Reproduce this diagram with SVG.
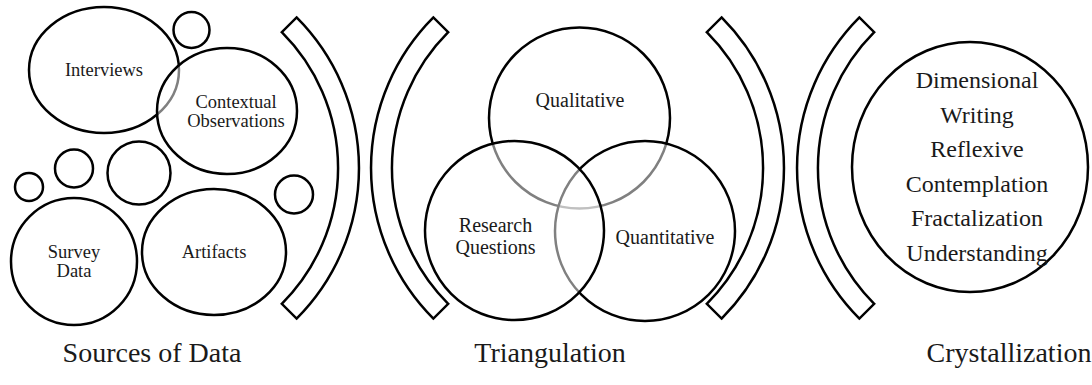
<svg xmlns="http://www.w3.org/2000/svg" width="1092" height="385" viewBox="0 0 1092 385">
<style>
.s{fill:#fff;fill-opacity:0.5;stroke:#000;stroke-width:2.5}
.b{fill:#fff;stroke:#000;stroke-width:2.5;stroke-linejoin:miter}
text{font-family:"Liberation Serif","Times New Roman",serif;fill:#1a1a1a;text-anchor:middle}
.t{font-size:18.5px}
.v{font-size:20px}
.c{font-size:24px}
.h{font-size:28px}
</style>
<rect width="1092" height="385" fill="#fff"/>
<g id="sources">
  <g id="interviews"><ellipse class="s" cx="104" cy="70" rx="75" ry="63"/><text class="t" x="104" y="76">Interviews</text></g>
  <g id="dot1"><circle class="s" cx="191.5" cy="30" r="18"/></g>
  <g id="contextual"><ellipse class="s" cx="227" cy="111" rx="70" ry="63"/><text class="t" x="236" y="108">Contextual</text><text class="t" x="236" y="127">Observations</text></g>
  <g id="dot2"><circle class="s" cx="29" cy="187" r="14"/></g>
  <g id="dot3"><circle class="s" cx="74" cy="168.5" r="19"/></g>
  <g id="dot4"><circle class="s" cx="139" cy="173" r="31.5"/></g>
  <g id="dot5"><circle class="s" cx="294" cy="194.5" r="19"/></g>
  <g id="survey"><ellipse class="s" cx="74" cy="261.5" rx="63" ry="63.5"/><text class="t" x="74" y="258">Survey</text><text class="t" x="74" y="277">Data</text></g>
  <g id="artifacts"><ellipse class="s" cx="214" cy="252" rx="72" ry="63"/><text class="t" x="214" y="258">Artifacts</text></g>
</g>
<g id="brackets">
  <path id="bracket1" class="b" d="M296.6 17.4 A213 213 0 0 1 296.6 318.6 L281.8 303.8 A192 192 0 0 0 281.8 32.2 Z"/>
  <path id="bracket2" class="b" d="M433.4 17.4 A213 213 0 0 0 433.4 318.6 L448.2 303.8 A192 192 0 0 1 448.2 32.2 Z"/>
  <path id="bracket3" class="b" d="M721.6 17.4 A213 213 0 0 1 721.6 318.6 L706.8 303.8 A192 192 0 0 0 706.8 32.2 Z"/>
  <path id="bracket4" class="b" d="M859.4 17.4 A213 213 0 0 0 859.4 318.6 L874.2 303.8 A192 192 0 0 1 874.2 32.2 Z"/>
</g>
<g id="triangulation">
  <g id="qualitative"><circle class="s" cx="579.5" cy="118" r="90.5"/><text class="v" x="580" y="107">Qualitative</text></g>
  <g id="quantitative"><circle class="s" cx="645" cy="231" r="90"/><text class="v" x="665" y="244">Quantitative</text></g>
  <g id="research"><circle class="s" cx="514.5" cy="230.5" r="89.5"/><text class="v" x="495.5" y="232">Research</text><text class="v" x="495.5" y="254">Questions</text></g>
</g>
<g id="crystallization">
  <ellipse class="s" cx="970" cy="167" rx="118" ry="125"/>
  <text class="c" x="977" y="88">Dimensional</text>
  <text class="c" x="977" y="123">Writing</text>
  <text class="c" x="977" y="157">Reflexive</text>
  <text class="c" x="977" y="192">Contemplation</text>
  <text class="c" x="977" y="226">Fractalization</text>
  <text class="c" x="977" y="261">Understanding</text>
</g>
<g id="labels">
  <text class="h" x="152" y="362">Sources of Data</text>
  <text class="h" x="550" y="362">Triangulation</text>
  <text class="h" x="1009" y="362">Crystallization</text>
</g>
</svg>
